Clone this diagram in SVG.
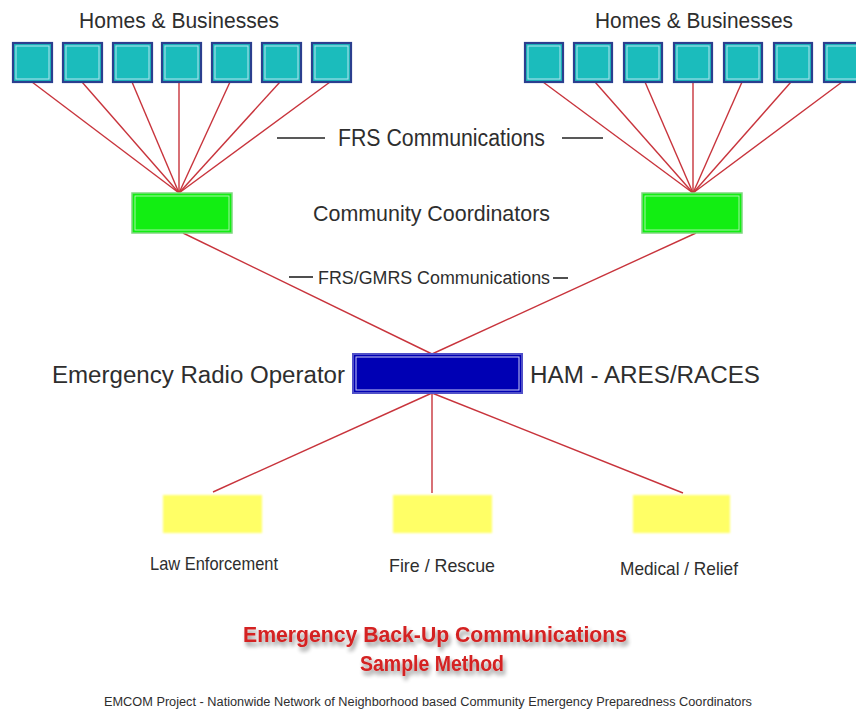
<svg xmlns="http://www.w3.org/2000/svg" width="856" height="715" viewBox="0 0 856 715">
<defs>
<style>
.lbl{font-family:"Liberation Sans",Arial,sans-serif;fill:#2e2e2e;}
.home rect.o{fill:#1bbcbc;stroke:#2b3f8f;stroke-width:2.2;}
.home rect.i{fill:none;stroke:#b8e4f0;stroke-width:1;}
.coord rect.o{fill:#12ee12;stroke:#7fd87f;stroke-width:1.5;}
.coord rect.i{fill:none;stroke:#c8f5c8;stroke-width:0.8;}
.link{stroke:#c8343c;stroke-width:1.4;fill:none;}
.dash{stroke:#222;stroke-width:1.6;}
.title{font-family:"Liberation Sans",Arial,sans-serif;font-weight:bold;fill:#d42020;}
</style>
<filter id="shadow" x="-10%" y="-30%" width="120%" height="180%">
<feGaussianBlur in="SourceAlpha" stdDeviation="2"/>
<feOffset dx="2" dy="4" result="b"/>
<feComponentTransfer><feFuncA type="linear" slope="0.45"/></feComponentTransfer>
<feMerge><feMergeNode/><feMergeNode in="SourceGraphic"/></feMerge>
</filter>
<filter id="soft" x="-10%" y="-10%" width="120%" height="120%">
<feGaussianBlur stdDeviation="1.2"/>
</filter>
</defs>
<rect width="856" height="715" fill="#ffffff"/>

<g id="connectors">
<line class="link" x1="32" y1="82" x2="179" y2="193"/>
<line class="link" x1="82" y1="82" x2="179" y2="193"/>
<line class="link" x1="132" y1="82" x2="179" y2="193"/>
<line class="link" x1="179" y1="82" x2="179" y2="193"/>
<line class="link" x1="230" y1="82" x2="179" y2="193"/>
<line class="link" x1="280" y1="82" x2="179" y2="193"/>
<line class="link" x1="330" y1="82" x2="179" y2="193"/>
<line class="link" x1="543" y1="82" x2="693" y2="193"/>
<line class="link" x1="595" y1="82" x2="693" y2="193"/>
<line class="link" x1="645" y1="82" x2="693" y2="193"/>
<line class="link" x1="693" y1="82" x2="693" y2="193"/>
<line class="link" x1="742" y1="82" x2="693" y2="193"/>
<line class="link" x1="791" y1="82" x2="693" y2="193"/>
<line class="link" x1="842" y1="82" x2="693" y2="193"/>
<line class="link" x1="183" y1="233" x2="432" y2="354"/>
<line class="link" x1="696" y1="233" x2="432" y2="354"/>
<line class="link" x1="432" y1="393" x2="213" y2="492"/>
<line class="link" x1="432" y1="393" x2="432" y2="493"/>
<line class="link" x1="432" y1="393" x2="683" y2="493"/>
</g>

<text class="lbl" x="179" y="28" font-size="22" text-anchor="middle" textLength="200" lengthAdjust="spacingAndGlyphs">Homes &amp; Businesses</text>
<text class="lbl" x="694" y="28" font-size="22" text-anchor="middle" textLength="198" lengthAdjust="spacingAndGlyphs">Homes &amp; Businesses</text>

<g id="homes-left" class="home">
<g id="home-l1"><rect class="o" x="13" y="43" width="39" height="39"/><rect class="i" x="16" y="46" width="33" height="33"/></g>
<g id="home-l2"><rect class="o" x="63" y="43" width="39" height="39"/><rect class="i" x="66" y="46" width="33" height="33"/></g>
<g id="home-l3"><rect class="o" x="113" y="43" width="39" height="39"/><rect class="i" x="116" y="46" width="33" height="33"/></g>
<g id="home-l4"><rect class="o" x="162" y="43" width="39" height="39"/><rect class="i" x="165" y="46" width="33" height="33"/></g>
<g id="home-l5"><rect class="o" x="212" y="43" width="39" height="39"/><rect class="i" x="215" y="46" width="33" height="33"/></g>
<g id="home-l6"><rect class="o" x="262" y="43" width="39" height="39"/><rect class="i" x="265" y="46" width="33" height="33"/></g>
<g id="home-l7"><rect class="o" x="312" y="43" width="39" height="39"/><rect class="i" x="315" y="46" width="33" height="33"/></g>
</g>
<g id="homes-right" class="home">
<g id="home-r1"><rect class="o" x="525" y="43" width="38" height="39"/><rect class="i" x="528" y="46" width="32" height="33"/></g>
<g id="home-r2"><rect class="o" x="574" y="43" width="38" height="39"/><rect class="i" x="577" y="46" width="32" height="33"/></g>
<g id="home-r3"><rect class="o" x="624" y="43" width="38" height="39"/><rect class="i" x="627" y="46" width="32" height="33"/></g>
<g id="home-r4"><rect class="o" x="674" y="43" width="38" height="39"/><rect class="i" x="677" y="46" width="32" height="33"/></g>
<g id="home-r5"><rect class="o" x="724" y="43" width="38" height="39"/><rect class="i" x="727" y="46" width="32" height="33"/></g>
<g id="home-r6"><rect class="o" x="774" y="43" width="38" height="39"/><rect class="i" x="777" y="46" width="32" height="33"/></g>
<g id="home-r7"><rect class="o" x="824" y="43" width="38" height="39"/><rect class="i" x="827" y="46" width="32" height="33"/></g>
</g>

<g id="frs-label">
<line class="dash" x1="277" y1="138" x2="325" y2="138"/>
<text class="lbl" x="338" y="146" font-size="23" textLength="207" lengthAdjust="spacingAndGlyphs">FRS Communications</text>
<line class="dash" x1="562" y1="138" x2="603" y2="138"/>
</g>

<g id="coord-left" class="coord"><rect class="o" x="132" y="193" width="100" height="40"/><rect class="i" x="135" y="196" width="94" height="34"/></g>
<g id="coord-right" class="coord"><rect class="o" x="642" y="193" width="100" height="40"/><rect class="i" x="645" y="196" width="94" height="34"/></g>
<text class="lbl" x="313" y="221" font-size="22" textLength="237" lengthAdjust="spacingAndGlyphs">Community Coordinators</text>

<g id="gmrs-label">
<line class="dash" x1="289" y1="277" x2="313" y2="277"/>
<text class="lbl" x="318" y="284" font-size="18" textLength="232" lengthAdjust="spacingAndGlyphs">FRS/GMRS Communications</text>
<line class="dash" x1="553" y1="278" x2="568" y2="278"/>
</g>

<g id="operator">
<rect x="353" y="354" width="169" height="39" fill="#0000b4" stroke="#5050c8" stroke-width="2"/>
<rect x="356" y="357" width="163" height="33" fill="none" stroke="#c8c8f4" stroke-width="1"/>
</g>
<text class="lbl" x="52" y="383" font-size="23" textLength="293" lengthAdjust="spacingAndGlyphs">Emergency Radio Operator</text>
<text class="lbl" x="530" y="383" font-size="23" textLength="230" lengthAdjust="spacingAndGlyphs">HAM - ARES/RACES</text>

<g id="law">
<rect x="163" y="495" width="99" height="38" fill="#ffff66" filter="url(#soft)"/>
<text class="lbl" x="150" y="570" font-size="19" textLength="128" lengthAdjust="spacingAndGlyphs">Law Enforcement</text>
</g>
<g id="fire">
<rect x="393" y="495" width="99" height="38" fill="#ffff66" filter="url(#soft)"/>
<text class="lbl" x="389" y="572" font-size="19" textLength="106" lengthAdjust="spacingAndGlyphs">Fire / Rescue</text>
</g>
<g id="medical">
<rect x="633" y="495" width="97" height="38" fill="#ffff66" filter="url(#soft)"/>
<text class="lbl" x="620" y="575" font-size="19" textLength="118" lengthAdjust="spacingAndGlyphs">Medical / Relief</text>
</g>

<g id="title" filter="url(#shadow)">
<text class="title" x="435" y="642" font-size="22" text-anchor="middle" textLength="384" lengthAdjust="spacingAndGlyphs">Emergency Back-Up Communications</text>
<text class="title" x="432" y="671" font-size="22" text-anchor="middle" textLength="144" lengthAdjust="spacingAndGlyphs">Sample Method</text>
</g>
<text class="lbl" x="428" y="706" font-size="12" text-anchor="middle" textLength="648" lengthAdjust="spacingAndGlyphs">EMCOM Project - Nationwide Network of Neighborhood based Community Emergency Preparedness Coordinators</text>
</svg>
